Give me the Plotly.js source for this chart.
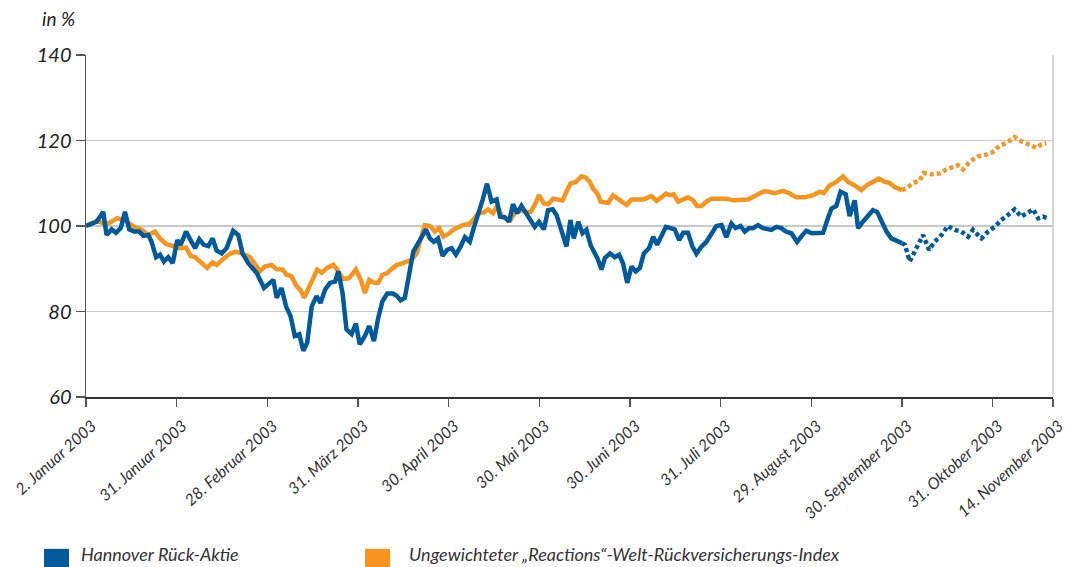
<!DOCTYPE html>
<html><head><meta charset="utf-8">
<script src="https://cdn.plot.ly/plotly-3.0.1.min.js"></script>
<style>html,body{margin:0;padding:0;background:#fff}#chart{width:1080px;height:567px}</style>
</head><body><div id="chart"></div>
<script>
// x = position on the time axis (30 units per month interval; 14 Nov = 320)
const tickVals = [0,30,60,90,120,150,180,210,240,270,300,320];
const tickLabels = ['2. Januar 2003','31. Januar 2003','28. Februar 2003','31. März 2003','30. April 2003','30. Mai 2003','30. Juni 2003','31. Juli 2003','29. August 2003','30. September 2003','31. Oktober 2003','14. November 2003'];

const hrX = [0,3.5,5.7,6.8,8.5,9.9,11.5,12.9,14.3,15.9,17.6,19.0,20.6,21.7,23.2,24.5,25.8,27.2,28.7,30.2,31.3,33.1,34.6,36.1,37.5,39.0,40.5,41.9,43.2,44.9,46.5,48.7,50.4,51.8,53.7,56.5,58.9,60.3,62.0,63.1,64.7,66.2,67.7,69.1,70.6,71.9,73.2,74.7,76.3,77.6,79.1,80.7,82.4,83.5,84.9,86.2,87.9,89.3,90.6,92.3,93.7,95.3,96.7,98.1,99.7,101.5,102.8,104.1,105.5,106.9,108.3,110.5,112.5,113.8,115.1,116.5,118.0,119.5,121.0,122.4,124.0,125.4,127.0,128.3,129.8,131.2,132.7,134.2,135.9,137.0,138.6,140.0,141.3,142.7,144.1,145.6,146.9,148.5,149.9,151.5,152.9,154.4,155.7,157.4,159.0,160.3,161.4,162.9,164.3,165.6,167.0,169.2,170.6,171.7,173.4,175.0,176.4,177.7,179.1,180.5,181.9,183.3,184.6,186.3,187.7,189.0,190.4,191.9,193.4,194.8,196.3,197.6,199.2,200.7,202.0,203.7,205.3,207.0,208.6,210.3,211.9,213.6,215.0,216.6,218.0,219.4,220.7,222.4,224.0,226.8,228.5,230.1,231.6,233.4,235.3,237.1,238.4,240.1,241.9,243.9,245.5,246.7,248.3,249.7,251.4,252.7,254.4,255.5,257.1,258.8,260.4,261.8,263.2,264.9,266.5,268.2,270.0];
const hrY = [100.0,101.0,103.3,97.9,99.2,98.4,99.5,103.3,99.2,98.7,98.7,97.7,97.9,96.3,92.7,93.3,91.7,92.7,91.3,96.7,95.6,98.7,96.7,94.8,96.9,95.6,95.3,97.1,94.3,93.6,94.8,98.9,97.9,93.6,91.3,89.0,85.5,86.3,87.4,83.2,85.5,81.2,78.9,74.3,74.7,70.8,72.7,81.2,83.6,82.0,85.1,86.7,87.0,89.4,84.3,75.8,74.7,77.2,72.3,74.3,76.6,73.1,78.5,82.4,84.2,84.2,83.7,82.6,83.2,88.6,94.0,96.7,99.2,97.1,96.3,97.1,93.0,94.4,94.8,93.3,95.2,97.4,96.3,99.5,102.6,106.0,109.9,105.7,106.2,102.2,102.0,101.0,105.1,103.0,104.7,103.0,101.2,99.8,101.0,99.2,103.7,103.9,102.6,98.7,95.2,101.4,97.1,101.0,98.3,99.1,95.5,92.5,89.8,92.5,93.6,92.7,93.3,91.3,86.7,90.5,89.4,90.2,93.6,94.8,97.5,95.6,97.5,99.8,99.5,99.2,96.7,98.4,98.4,95.2,93.5,95.2,96.3,98.4,100.0,100.2,97.4,100.6,99.5,100.0,98.7,99.5,99.5,100.2,99.5,99.1,99.8,99.5,98.7,98.3,96.3,97.9,98.9,98.3,98.4,98.4,101.8,104.1,104.7,108.0,107.4,102.3,106.0,99.5,101.0,102.6,103.7,103.3,101.4,98.7,97.1,96.6,96.0];
const hrDotX = [270.0,271.0,272.6,274.2,277.0,279.0,280.8,283.1,285.2,287.5,289.7,291.9,293.5,296.3,298.5,300.7,302.9,305.1,307.3,309.5,311.7,313.4,315.1,316.7,318.4];
const hrDotY = [96.0,95.6,91.7,94.0,97.9,94.4,96.3,97.9,100.0,99.1,98.7,97.5,99.1,97.1,98.7,99.8,101.4,102.6,103.9,102.2,103.3,103.9,101.8,102.2,101.8];

const reX = [0,3.5,6.3,7.9,10.2,11.8,14.0,16.2,18.4,20.6,22.8,24.5,26.5,28.9,31.1,33.1,34.6,36.1,38.3,40.1,41.9,43.2,45.4,47.6,49.6,52.0,54.3,55.9,57.6,59.2,61.4,63.1,65.1,66.4,68.0,69.7,71.0,72.2,73.9,75.4,76.5,78.0,79.8,81.8,83.1,85.1,87.1,89.3,90.9,92.3,93.7,95.3,96.7,98.1,99.7,101.1,102.8,104.4,106.1,107.7,109.4,111.0,112.1,113.8,115.4,116.9,118.2,119.8,121.5,123.2,124.8,126.8,128.1,129.8,131.4,133.1,134.7,136.1,137.5,138.9,140.5,141.9,143.6,145.6,147.1,148.5,149.9,151.5,152.9,154.6,156.2,157.7,159.0,160.3,162.1,164.0,165.4,166.7,167.8,169.2,170.3,172.8,174.4,176.6,178.9,180.5,184.4,187.1,188.8,190.4,191.9,193.2,194.5,195.9,197.6,199.2,200.9,202.2,203.7,205.3,207.0,209.7,211.9,214.1,216.3,219.1,220.7,222.4,224.0,225.2,227.9,230.7,232.9,235.1,237.8,240.6,242.8,244.1,246.1,248.3,250.5,252.2,254.4,256.6,258.3,260.4,262.4,264.3,265.9,267.6,269.3,270.0];
const reY = [100.0,101.2,100.5,100.8,101.8,101.6,100.8,99.7,99.1,97.9,98.7,97.1,95.8,95.2,94.8,95.0,93.0,92.7,91.5,90.2,91.5,90.9,92.3,93.5,94.0,93.5,92.7,90.9,89.4,90.5,90.9,89.9,89.8,88.6,88.2,85.9,85.0,83.2,85.9,88.6,89.8,89.1,90.2,90.9,89.8,87.6,87.8,89.8,87.4,84.3,87.4,86.7,86.7,88.6,89.0,89.9,90.9,91.2,91.7,92.1,93.6,97.5,100.2,100.0,98.7,99.5,97.5,98.1,99.1,99.7,100.2,100.5,101.4,103.0,103.1,103.9,103.0,104.7,102.6,101.8,101.4,103.0,103.9,103.3,103.3,104.9,107.2,105.3,105.1,106.4,106.2,106.0,108.0,109.9,110.3,111.6,111.3,110.3,108.8,107.6,105.7,105.4,107.2,106.0,104.9,106.2,106.2,107.0,105.9,106.7,107.6,107.2,107.4,105.7,106.2,106.7,106.0,104.7,104.7,105.7,106.4,106.4,106.4,106.0,106.2,106.2,106.8,107.4,108.0,108.1,107.7,108.2,107.6,106.7,106.7,107.2,108.0,107.7,109.5,110.3,111.6,110.3,109.5,108.4,109.5,110.3,111.1,110.3,110.1,109.1,108.4,108.4];
const reDotX = [270.0,271.5,273.6,275.9,277.2,279.7,282.5,284.6,286.9,288.5,290.2,292.4,295.2,297.9,300.1,302.3,304.6,307.3,309.5,311.7,314.5,316.2,317.8];
const reDotY = [108.4,108.8,110.0,110.7,112.4,112.1,112.3,113.2,113.8,114.2,113.2,115.0,116.3,116.7,117.3,118.8,119.4,120.8,119.8,119.2,118.3,119.1,119.4];

const seriesNames = ['Hannover Rück-Aktie', 'Ungewichteter „Reactions“-Welt-Rückversicherungs-Index'];

const BLUE = '#005A9C', ORANGE = '#F7941D';
const FONT = 'Lato, "Open Sans", sans-serif';

const traces = [
  {x: reX, y: reY, name: seriesNames[1], mode: 'lines', line: {color: ORANGE, width: 4.5}, showlegend: false},
  {x: reDotX, y: reDotY, name: seriesNames[1], mode: 'lines', line: {color: ORANGE, width: 4.5, dash: '4px,3px'}, showlegend: false},
  {x: hrX, y: hrY, name: seriesNames[0], mode: 'lines', line: {color: BLUE, width: 4.5}, showlegend: false},
  {x: hrDotX, y: hrDotY, name: seriesNames[0], mode: 'lines', line: {color: BLUE, width: 4.5, dash: '4px,3px'}, showlegend: false}
];

const layout = {
  width: 1080, height: 567,
  margin: {l: 86, r: 27, t: 55, b: 170},
  paper_bgcolor: '#fff', plot_bgcolor: '#fff',
  showlegend: false,
  title: {text: 'in %', xref: 'container', yref: 'container', x: 0.039, xanchor: 'left', y: 0.966, yanchor: 'middle',
          font: {family: FONT, size: 19, color: '#222', style: 'italic'}},
  xaxis: {
    range: [0, 320], tickmode: 'array', tickvals: tickVals, ticktext: tickLabels,
    tickangle: -42, ticks: 'outside', ticklen: 8, tickwidth: 1.5, tickcolor: '#555',
    ticklabelstandoff: 4, ticklabelshift: 6,
    showline: true, linecolor: '#333', linewidth: 1.5, showgrid: false, zeroline: false,
    tickfont: {family: FONT, size: 16, color: '#333', style: 'italic'}
  },
  yaxis: {
    range: [60, 140], tickmode: 'linear', tick0: 60, dtick: 20,
    ticks: 'outside', ticklen: 9, tickwidth: 1.5, tickcolor: '#555',
    showline: true, linecolor: '#555', linewidth: 1.5,
    showgrid: true, gridcolor: '#c8c8c8', gridwidth: 1.5, zeroline: false,
    tickfont: {family: FONT, size: 20, color: '#222', style: 'italic'}
  },
  shapes: [
    {type: 'line', xref: 'paper', yref: 'paper', x0: 1, x1: 1, y0: 0, y1: 1, line: {color: '#c8c8c8', width: 1.5}},
    {type: 'rect', xref: 'paper', yref: 'paper', x0: -0.0434, x1: -0.0176, y0: -0.444, y1: -0.497, fillcolor: BLUE, line: {width: 0}},
    {type: 'rect', xref: 'paper', yref: 'paper', x0: 0.2885, x1: 0.3144, y0: -0.444, y1: -0.497, fillcolor: ORANGE, line: {width: 0}}
  ],
  annotations: [
    {xref: 'paper', yref: 'paper', x: -0.0072, y: -0.459, xanchor: 'left', yanchor: 'middle', showarrow: false,
     text: seriesNames[0], font: {family: FONT, size: 18, color: '#333', style: 'italic'}},
    {xref: 'paper', yref: 'paper', x: 0.332, y: -0.459, xanchor: 'left', yanchor: 'middle', showarrow: false,
     text: seriesNames[1], font: {family: FONT, size: 18, color: '#333', style: 'italic'}}
  ]
};

Plotly.newPlot('chart', traces, layout, {displayModeBar: false, staticPlot: true});
</script></body></html>
